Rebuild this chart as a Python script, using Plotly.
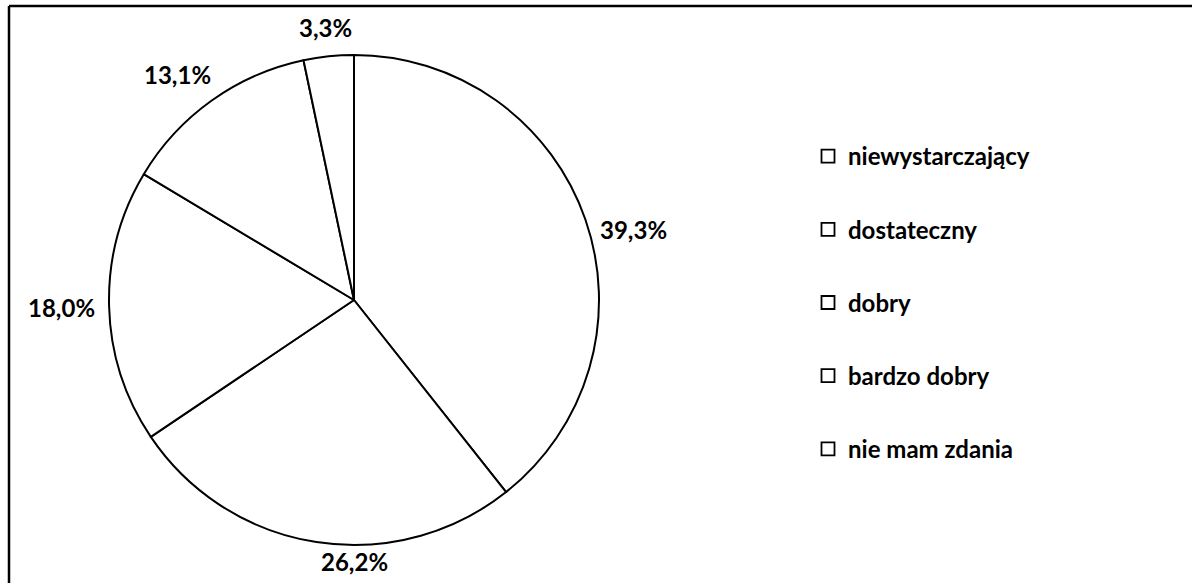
import math
import plotly.graph_objects as go

# ---- data ----
categories = ["niewystarczający", "dostateczny", "dobry", "bardzo dobry", "nie mam zdania"]
values = [39.3, 26.2, 18.0, 13.1, 3.3]
value_labels = [f"{v:.1f}%".replace(".", ",") for v in values]

# ---- layout / style ----
W, H = 1192, 583
FONT = "Lato"
PIE_CX, PIE_CY, PIE_R = 354, 300, 245          # pixels
LABEL_HALF_W, LABEL_HALF_H = 33, 10
GAP_X, GAP_Y = 14, 6
ANGLE_NUDGE = {0: 5, 1: -9, 3: -2.5}            # degrees, Excel "best fit" placement
RADIAL_NUDGE = {0: -6, 4: 8}                    # pixels

fig = go.Figure()

fig.add_trace(go.Pie(
    values=values,
    labels=categories,
    sort=False,
    direction="clockwise",
    rotation=0,
    marker=dict(colors=["white"] * len(values), line=dict(color="black", width=2)),
    textinfo="none",
    hoverinfo="label+percent",
    showlegend=False,
    domain=dict(
        x=[(PIE_CX - PIE_R) / W, (PIE_CX + PIE_R) / W],
        y=[(H - PIE_CY - PIE_R) / H, (H - PIE_CY + PIE_R) / H],
    ),
))

# legend entries as separate groups so spacing can be controlled
for i, cat in enumerate(categories):
    fig.add_trace(go.Scatter(
        x=[None], y=[None], mode="markers", name=cat,
        legendgroup=f"g{i}",
        marker=dict(symbol="square", size=13, color="white",
                    line=dict(color="black", width=1.8)),
    ))

# data labels placed outside the slices
total = sum(values)
cum = 0.0
annotations = []
for i, (v, txt) in enumerate(zip(values, value_labels)):
    mid = (cum + v / 2) / total * 360.0
    cum += v
    ang = math.radians(mid + ANGLE_NUDGE.get(i, 0))
    s, c = math.sin(ang), math.cos(ang)
    r = (PIE_R + abs(s) * (LABEL_HALF_W + GAP_X) + abs(c) * (LABEL_HALF_H + GAP_Y)
         + RADIAL_NUDGE.get(i, 0))
    px = PIE_CX + r * s
    py = PIE_CY - r * c
    annotations.append(dict(
        x=px / W, y=1 - py / H, xref="paper", yref="paper",
        text=f"<b>{txt}</b>", showarrow=False,
        xanchor="center", yanchor="middle",
        font=dict(family=FONT, size=24, color="black"),
    ))

border = dict(color="black", width=2.5)
fig.update_layout(
    width=W, height=H,
    margin=dict(l=0, r=0, t=0, b=0),
    paper_bgcolor="white", plot_bgcolor="white",
    xaxis=dict(visible=False), yaxis=dict(visible=False),
    annotations=annotations,
    legend=dict(
        x=808 / W, y=1 - 134 / H, xanchor="left", yanchor="top",
        font=dict(family=FONT, size=24, color="black", weight="bold"),
        tracegroupgap=39, itemwidth=30, bgcolor="rgba(0,0,0,0)",
    ),
    shapes=[
        dict(type="line", xref="paper", yref="paper",
             x0=9 / W, x1=1.0, y0=1 - 6 / H, y1=1 - 6 / H, line=border),
        dict(type="line", xref="paper", yref="paper",
             x0=9 / W, x1=9 / W, y0=0, y1=1 - 6 / H, line=border),
    ],
)

fig.write_html("out.html", config={"displayModeBar": False},
               post_script="document.body.style.margin='0';")
